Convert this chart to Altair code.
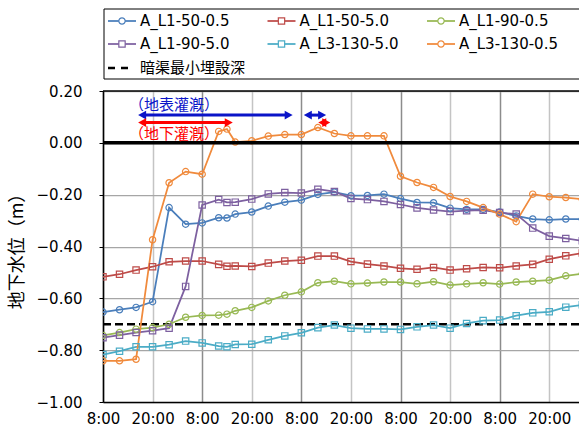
import json
import altair as alt
import pandas as pd

# Elapsed hours from the first 8:00 reading
hours = [0, 4, 8, 12, 16, 20, 24, 28, 30, 32, 36, 40, 44, 48, 52, 56, 60, 64, 68,
         72, 76, 80, 84, 88, 92, 96, 100, 104, 108, 112, 116]

series_names = ["A_L1-50-0.5", "A_L1-50-5.0", "A_L1-90-0.5",
                "A_L1-90-5.0", "A_L3-130-5.0", "A_L3-130-0.5"]
series_colors = ["#4a7ebb", "#be4b48", "#98b954", "#7d60a0", "#4bacc6", "#f08a3c"]
series_shapes = ["circle", "square", "circle", "square", "square", "circle"]

# Groundwater level (m) for each sensor
l1_50_05 = [-0.653, -0.644, -0.635, -0.613, -0.250, -0.314, -0.309, -0.289, -0.290, -0.275,
            -0.267, -0.244, -0.229, -0.221, -0.199, -0.190, -0.204, -0.203, -0.198, -0.215,
            -0.230, -0.231, -0.252, -0.257, -0.257, -0.267, -0.282, -0.294, -0.297, -0.294,
            -0.295]
l1_50_50 = [-0.517, -0.507, -0.491, -0.478, -0.459, -0.456, -0.456, -0.469, -0.476, -0.475,
            -0.477, -0.464, -0.456, -0.453, -0.437, -0.437, -0.458, -0.468, -0.475, -0.484,
            -0.488, -0.481, -0.491, -0.486, -0.481, -0.482, -0.475, -0.469, -0.449, -0.436,
            -0.425]
l1_90_05 = [-0.743, -0.732, -0.719, -0.713, -0.700, -0.673, -0.666, -0.665, -0.661, -0.648,
            -0.635, -0.610, -0.588, -0.575, -0.540, -0.534, -0.544, -0.541, -0.537, -0.537,
            -0.544, -0.536, -0.549, -0.544, -0.540, -0.545, -0.537, -0.534, -0.530, -0.513,
            -0.505]
l1_90_50 = [-0.752, -0.742, -0.732, -0.725, -0.715, -0.554, -0.240, -0.219, -0.230, -0.229,
            -0.217, -0.197, -0.192, -0.194, -0.179, -0.188, -0.215, -0.219, -0.226, -0.238,
            -0.251, -0.259, -0.265, -0.262, -0.260, -0.269, -0.275, -0.329, -0.360, -0.369,
            -0.378]
l3_130_50 = [-0.817, -0.804, -0.787, -0.787, -0.779, -0.765, -0.772, -0.784, -0.787, -0.778,
             -0.777, -0.760, -0.745, -0.733, -0.713, -0.703, -0.715, -0.718, -0.718, -0.720,
             -0.710, -0.703, -0.715, -0.697, -0.686, -0.684, -0.667, -0.656, -0.652, -0.634,
             -0.625]
l3_130_05 = [-0.841, -0.841, -0.835, -0.374, -0.154, -0.111, -0.121, 0.044, 0.053, 0.003,
             0.008, 0.026, 0.032, 0.032, 0.059, 0.036, 0.027, 0.027, 0.027, -0.129,
             -0.153, -0.172, -0.207, -0.226, -0.250, -0.275, -0.304, -0.198, -0.208, -0.211,
             -0.218]
series_values = [l1_50_05, l1_50_50, l1_90_05, l1_90_50, l3_130_50, l3_130_05]

drain_depth = -0.70
drain_label = "暗渠最小埋設深"

tick_hours = [0, 12, 24, 36, 48, 60, 72, 84, 96, 108]
tick_labels = ["8:00", "20:00", "8:00", "20:00", "8:00", "20:00", "8:00", "20:00", "8:00", "20:00"]
y_ticks = [-1.0, -0.8, -0.6, -0.4, -0.2, 0.0, 0.2]
y_title = "地下水位（m）"

# Irrigation periods (hours)
irrigation_labels = ["（地表灌漑）", "（地下灌漑）"]
irrigation_colors = ["#0a14c8", "#ff0000"]
surface_from = [8.5, 48.6]
surface_to = [45.9, 54.0]
subsurface_from = [8.5, 52.1]
subsurface_to = [31.4, 55.0]

W, H = 476, 311
X_MAX = 115.2
FONT = "DejaVu Sans"
JP_FONT = "Noto Sans CJK JP"

long_rows = []
for name, vals in zip(series_names, series_values):
    for h, v in zip(hours, vals):
        long_rows.append({"series": name, "hour": h, "level": v})
df = pd.DataFrame(long_rows)

x_scale = alt.Scale(domain=[0, X_MAX], nice=False, zero=False)
y_scale = alt.Scale(domain=[-1.0, 0.2], nice=False, zero=False)

label_expr = f"{json.dumps(tick_labels)}[round(datum.value / 12)]"

x_axis = alt.Axis(
    values=tick_hours, labelExpr=label_expr, title=None, ticks=False,
    labelFont=FONT, labelFontSize=15, labelColor="black", labelPadding=9,
    labelOverlap=False, labelFlush=False,
    domainColor="black", domainWidth=1.5,
    grid=True, gridWidth=1.5,
    gridColor={"condition": {"test": "datum.value % 24 === 0", "value": "#8c8c8c"},
               "value": "#c4c4c4"},
)
y_axis = alt.Axis(
    values=y_ticks, format=".2f", title=y_title,
    labelFont=FONT, labelFontSize=15, labelColor="black", labelPadding=17,
    labelOverlap=False,
    tickSize=4, tickColor="black", domainColor="black", domainWidth=1.5,
    grid=True, gridColor="#a6a6a6", gridWidth=1.25,
    titleFont=JP_FONT, titleFontSize=18, titleFontWeight="normal", titleColor="black",
    titleX=-86, titleY=H / 2, titleAngle=270, titleAlign="center", titleBaseline="middle",
)

color = alt.Color("series:N", scale=alt.Scale(domain=series_names, range=series_colors), legend=None)

base = alt.Chart(df)

lines = base.mark_line(strokeWidth=1.75, clip=True).encode(
    x=alt.X("hour:Q", scale=x_scale, axis=x_axis),
    y=alt.Y("level:Q", scale=y_scale, axis=y_axis),
    color=color,
    detail="series:N",
)
points = base.mark_point(filled=False, size=40, strokeWidth=1.2, opacity=1, clip=True).encode(
    x=alt.X("hour:Q", scale=x_scale),
    y=alt.Y("level:Q", scale=y_scale),
    color=color,
    shape=alt.Shape("series:N", scale=alt.Scale(domain=series_names, range=series_shapes), legend=None),
)

drain = alt.Chart(pd.DataFrame({"level": [drain_depth]})).mark_rule(
    color="black", strokeWidth=2.5, strokeDash=[8, 4]
).encode(y=alt.Y("level:Q", scale=y_scale))

zero = alt.Chart(pd.DataFrame({"level": [0.0]})).mark_rule(
    color="black", strokeWidth=3.5
).encode(y=alt.Y("level:Q", scale=y_scale))

top_border = alt.Chart(pd.DataFrame({"level": [0.2]})).mark_rule(
    color="black", strokeWidth=1.5
).encode(y=alt.Y("level:Q", scale=y_scale))

# Irrigation arrows and their captions
HEAD_R = "M0,0L-2,-1.1L-2,1.1Z"
HEAD_L = "M0,0L2,-1.1L2,1.1Z"


def arrows(starts, ends, level, col):
    d = pd.DataFrame({"a": starts, "b": ends, "level": [level] * len(starts)})
    c = alt.Chart(d)
    shaft = c.transform_calculate(a2="datum.a + 1", b2="datum.b - 1").mark_rule(
        color=col, strokeWidth=3
    ).encode(x=alt.X("a2:Q", scale=x_scale), x2="b2:Q", y=alt.Y("level:Q", scale=y_scale))
    left = c.mark_point(shape=HEAD_L, filled=True, size=64, color=col, opacity=1).encode(
        x=alt.X("a:Q", scale=x_scale), y=alt.Y("level:Q", scale=y_scale))
    right = c.mark_point(shape=HEAD_R, filled=True, size=64, color=col, opacity=1).encode(
        x=alt.X("b:Q", scale=x_scale), y=alt.Y("level:Q", scale=y_scale))
    return [shaft, left, right]


arrow_layers = (arrows(surface_from, surface_to, 0.107, irrigation_colors[0])
                + arrows(subsurface_from, subsurface_to, 0.078, irrigation_colors[1]))

caption_df = pd.DataFrame({"label": irrigation_labels, "hour": [17.2, 17.2],
                           "level": [0.147, 0.035], "col": irrigation_colors})
captions = alt.Chart(caption_df).mark_text(font=JP_FONT, fontSize=15, baseline="middle").encode(
    x=alt.X("hour:Q", scale=x_scale), y=alt.Y("level:Q", scale=y_scale),
    text="label:N", color=alt.Color("col:N", scale=None),
)

# Legend drawn in the top margin
legend_layers = [
    alt.Chart(pd.DataFrame({"k": [0]})).mark_rect(fill="white", stroke="black", strokeWidth=1).encode(
        x=alt.value(1), x2=alt.value(478), y=alt.value(-82), y2=alt.value(-12))
]
row_y = [-70, -47, -23]
for i, (name, col, shp) in enumerate(zip(series_names, series_colors, series_shapes)):
    r, c = divmod(i, 3)
    x0 = 5 + 159.5 * c
    y0 = row_y[r]
    one = alt.Chart(pd.DataFrame({"k": [0]}))
    legend_layers.append(one.mark_rule(color=col, strokeWidth=1.75).encode(
        x=alt.value(x0), x2=alt.value(x0 + 28), y=alt.value(y0)))
    legend_layers.append(one.mark_point(shape=shp, filled=False, size=40, strokeWidth=1.2,
                                        color=col, opacity=1, fill="white", fillOpacity=1).encode(
        x=alt.value(x0 + 14), y=alt.value(y0)))
    legend_layers.append(one.mark_text(text=name, font=FONT, fontSize=15, align="left",
                                       baseline="middle", color="black").encode(
        x=alt.value(x0 + 32), y=alt.value(y0)))
one = alt.Chart(pd.DataFrame({"k": [0]}))
legend_layers.append(one.mark_rule(color="black", strokeWidth=2.5, strokeDash=[7, 6]).encode(
    x=alt.value(5), x2=alt.value(30), y=alt.value(row_y[2])))
legend_layers.append(one.mark_text(text=drain_label, font=JP_FONT, fontSize=15, align="left",
                                   baseline="middle", color="black").encode(
    x=alt.value(37), y=alt.value(row_y[2])))

chart = alt.layer(
    drain, lines, points, zero, top_border, *arrow_layers, captions, *legend_layers
).properties(
    width=W, height=H,
    autosize=alt.AutoSizeParams(type="none"),
    padding={"left": 103, "top": 91, "right": 0, "bottom": 32},
    background="white",
).configure_view(stroke=None)

chart.save("out.html", embed_options={"renderer": "svg", "actions": False})
